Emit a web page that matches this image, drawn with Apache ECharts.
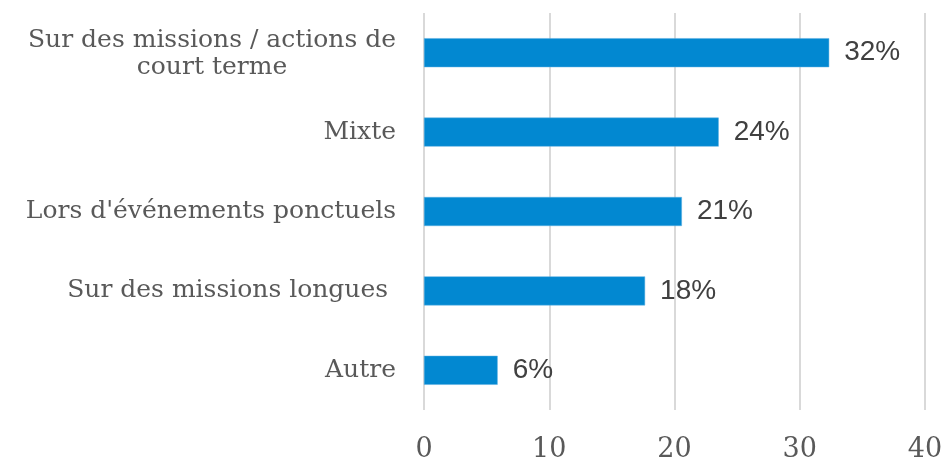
<!DOCTYPE html>
<html>
<head>
<meta charset="utf-8">
<script src="https://cdn.jsdelivr.net/npm/echarts@6/dist/echarts.min.js"></script>
<style>
  html, body { margin: 0; padding: 0; background: #fff; }
  #chart { width: 946px; height: 460px; }
</style>
</head>
<body>
<div id="chart"></div>
<script>
// catégories (de haut en bas)
var categories = [
    "Sur des missions / actions de\ncourt terme",
    "Mixte",
    "Lors d'événements ponctuels",
    "Sur des missions longues ",
    "Autre"
];
// pourcentages (11/34, 8/34, 7/34, 6/34, 2/34)
var values = [32.35, 23.53, 20.59, 17.65, 5.88];
var xTicks = [0, 10, 20, 30, 40];

var chartDom = document.getElementById('chart');
var myChart = echarts.init(chartDom);
var option;
option = {
    animation: false,
    grid: {
        left: 424,
        right: 21,
        top: 13,
        bottom: 50,
        containLabel: false,
        outerBoundsMode: 'none'
    },
    xAxis: {
        type: 'value',
        min: xTicks[0],
        max: xTicks[xTicks.length - 1],
        interval: 10,
        axisLine: { show: false },
        axisTick: { show: false },
        splitLine: {
            show: true,
            lineStyle: { color: '#d9d9d9', width: 2 }
        },
        axisLabel: {
            margin: 26,
            fontFamily: 'DejaVu Serif',
            fontSize: 27,
            color: '#595959'
        }
    },
    yAxis: {
        type: 'category',
        inverse: true,
        data: categories,
        axisLine: { show: false },
        axisTick: { show: false },
        splitLine: { show: false },
        axisLabel: {
            margin: 28,
            color: '#595959',
            formatter: function (val) {
                // chaque ligne centrée comme dans l'original
                var lines = val.split('\n');
                if (lines.length > 1) {
                    return lines.map(function (s, i) {
                        return (i === 0 ? '{f|' : '{c|') + s + '}';
                    }).join('\n');
                }
                return '{c|' + val + '}';
            },
            rich: {
                f: {
                    align: 'center',
                    fontFamily: 'DejaVu Serif',
                    fontSize: 25,
                    lineHeight: 30,
                    padding: [6, 0, 0, 0],
                    color: '#595959'
                },
                c: {
                    align: 'center',
                    fontFamily: 'DejaVu Serif',
                    fontSize: 25,
                    lineHeight: 30,
                    color: '#595959'
                }
            }
        }
    },
    series: [
        {
            type: 'bar',
            data: values,
            barWidth: 29,
            itemStyle: {
                color: '#0288d1',
                borderColor: '#5aaee0',
                borderWidth: 0.5
            },
            label: {
                show: true,
                position: 'right',
                distance: 15,
                fontFamily: 'Liberation Sans',
                fontSize: 28,
                color: '#404040',
                formatter: function (p) {
                    return Math.round(p.value) + '%';
                }
            }
        }
    ]
};
option && myChart.setOption(option);
</script>
</body>
</html>
